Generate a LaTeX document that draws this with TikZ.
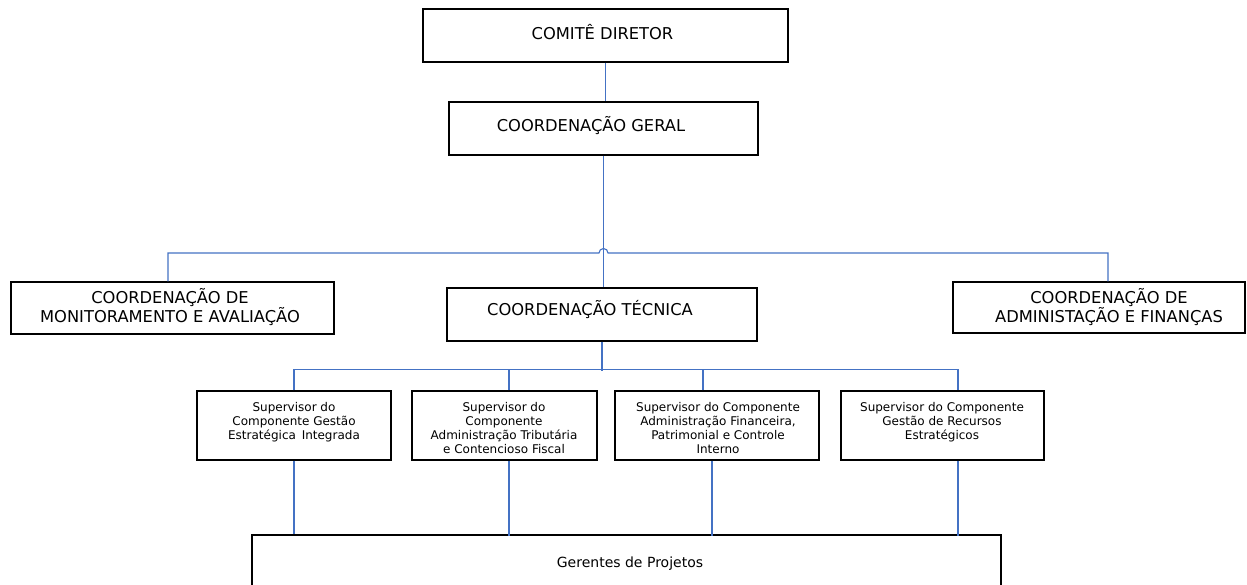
\documentclass[tikz,border=0pt]{standalone}
\usepackage{fontspec}
\setmainfont{DejaVu Sans}
\usetikzlibrary{calc}
\definecolor{linkblue}{HTML}{4472C4}
\begin{document}
\begin{tikzpicture}[x=1pt,y=-1pt,
  box/.style={draw=black, line width=1.2pt, inner sep=0pt, fill=white},
  link/.style={draw=linkblue, line width=1.1pt},
  title/.style={font=\fontsize{16.3}{19}\selectfont, align=center, inner sep=0pt, anchor=base},
  suptext/.style={font=\fontsize{12}{13.7}\selectfont, align=center, inner sep=0pt, anchor=base},
]
\useasboundingbox (0,0) rectangle (1247,585);
\clip (0,0) rectangle (1247,585);
\fill[white] (0,0) rectangle (1247,585);

% boxes
\node[box, minimum width=365pt, minimum height=53pt] (comite) at (605.5,35.5) {};
\node[box, minimum width=309pt, minimum height=53pt] (geral) at (603.5,128.5) {};
\node[box, minimum width=323pt, minimum height=52pt] (monit) at (172.5,308) {};
\node[box, minimum width=310pt, minimum height=53pt] (tecnica) at (602,314.5) {};
\node[box, minimum width=292pt, minimum height=51pt] (admin) at (1099,307.5) {};
\node[box, minimum width=194pt, minimum height=69pt] (sup1) at (294,425.5) {};
\node[box, minimum width=185pt, minimum height=69pt] (sup2) at (504.5,425.5) {};
\node[box, minimum width=204pt, minimum height=69pt] (sup3) at (717,425.5) {};
\node[box, minimum width=203pt, minimum height=69pt] (sup4) at (942.5,425.5) {};
\node[box, minimum width=749pt, minimum height=70pt] (gerentes) at (626.5,570) {};

% texts (anchor base = baseline of the last line)
\node[title] (comiteT) at (602.5,39.5) {COMITÊ DIRETOR};
\node[title] (geralT) at (591,132) {COORDENAÇÃO GERAL};
\node[title] (tecnicaT) at (590,316) {COORDENAÇÃO TÉCNICA};
\node[title] (monitT) at (170,322) {COORDENAÇÃO DE\\MONITORAMENTO E AVALIAÇÃO};
\node[title] (adminT) at (1109,322) {COORDENAÇÃO DE\\ADMINISTAÇÃO E FINANÇAS};
\node[suptext] (sup1T) at (294,439) {Supervisor do\\Componente Gestão\\Estratégica\, Integrada};
\node[suptext] (sup2T) at (504,453) {Supervisor do\\Componente\\Administração Tributária\\e Contencioso Fiscal};
\node[suptext] (sup3T) at (718,453) {Supervisor do Componente\\Administração Financeira,\\Patrimonial e Controle\\Interno};
\node[suptext] (sup4T) at (942,439) {Supervisor do Componente\\Gestão de Recursos\\Estratégicos};
\node[inner sep=0pt, anchor=base, font=\fontsize{14}{17}\selectfont] (gerentesT) at (630,567) {Gerentes de Projetos};

% connectors
\coordinate (bus1) at (603.5,253);
\draw[link] (comite.south) -- (comite.south |- geral.north);
\draw[link] (geral.south) -- (geral.south |- tecnica.north);
\draw[link] ([xshift=-4.5pt]monit.north) |- ([xshift=-4.5pt]bus1)
  arc[start angle=180, end angle=360, radius=4.5] -| ([xshift=9pt]admin.north);

\draw[link] (tecnica.south) -- ++(0,29);
\draw[link] (sup1.north) -- ++(0,-21) -| ([xshift=15.5pt]sup4.north);
\draw[link] ([xshift=4.5pt]sup2.north) -- ++(0,-21);
\draw[link] ([xshift=-14pt]sup3.north) -- ++(0,-21);

\draw[link] (sup1.south) -- (sup1.south |- gerentes.north);
\draw[link] ([xshift=4.5pt]sup2.south) -- ++(0,75);
\draw[link] ([xshift=-5pt]sup3.south) -- ++(0,75);
\draw[link] ([xshift=15.5pt]sup4.south) -- ++(0,75);
\end{tikzpicture}
\end{document}
